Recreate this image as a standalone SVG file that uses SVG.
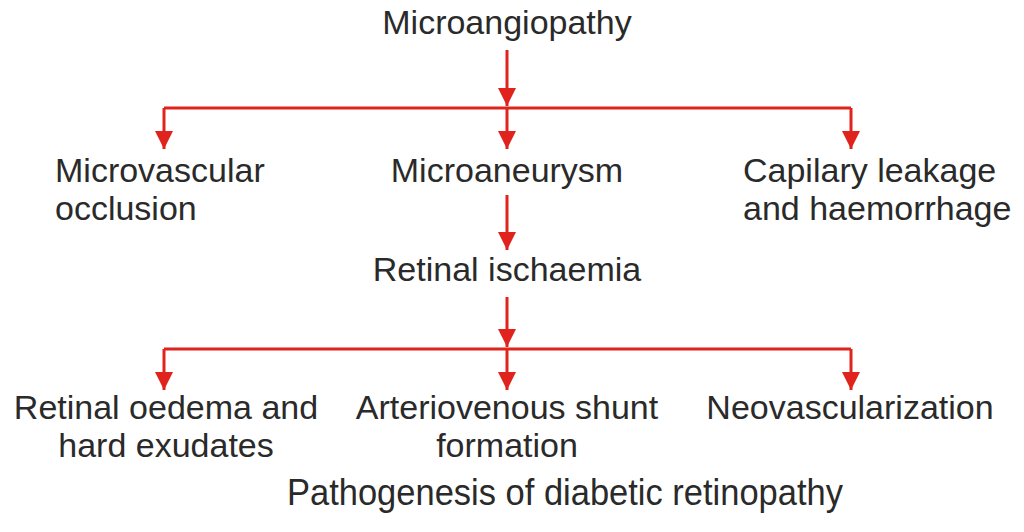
<svg xmlns="http://www.w3.org/2000/svg" width="1024" height="532" viewBox="0 0 1024 532">
<defs>
<style>
text{font-family:"Liberation Sans",Arial,sans-serif;font-size:34px;fill:#2a2a2a}
.c{text-anchor:middle}
.cap{font-size:37px}
.e{stroke:#e0231c;stroke-width:3;fill:none}
</style>
<marker id="ah" markerUnits="userSpaceOnUse" markerWidth="18" markerHeight="18" refX="17" refY="8.5" orient="auto" viewBox="0 0 17 17">
<path d="M0,0 L17,8.5 L0,17 Z" fill="#e0231c"/>
</marker>
</defs>
<rect width="1024" height="532" fill="#ffffff"/>
<g id="connectors">
<path class="e" d="M507,50 V106" marker-end="url(#ah)"/>
<path class="e" d="M164,108 H851"/>
<path class="e" d="M164,108 V149" marker-end="url(#ah)"/>
<path class="e" d="M507,108 V149" marker-end="url(#ah)"/>
<path class="e" d="M851,108 V149" marker-end="url(#ah)"/>
<path class="e" d="M507,195 V250" marker-end="url(#ah)"/>
<path class="e" d="M507,297 V347" marker-end="url(#ah)"/>
<path class="e" d="M164,349 H851"/>
<path class="e" d="M164,349 V390" marker-end="url(#ah)"/>
<path class="e" d="M507,349 V390" marker-end="url(#ah)"/>
<path class="e" d="M851,349 V390" marker-end="url(#ah)"/>
</g>
<g id="microangiopathy"><text class="c" x="507" y="34">Microangiopathy</text></g>
<g id="microvascular-occlusion"><text x="55" y="182">Microvascular</text><text x="55" y="220">occlusion</text></g>
<g id="microaneurysm"><text class="c" x="507" y="182">Microaneurysm</text></g>
<g id="capilary-leakage"><text x="743" y="182">Capilary leakage</text><text x="743" y="220">and haemorrhage</text></g>
<g id="retinal-ischaemia"><text class="c" x="507" y="281">Retinal ischaemia</text></g>
<g id="retinal-oedema"><text class="c" x="166" y="419">Retinal oedema and</text><text class="c" x="166" y="457">hard exudates</text></g>
<g id="av-shunt"><text class="c" x="507" y="419">Arteriovenous shunt</text><text class="c" x="507" y="457">formation</text></g>
<g id="neovascularization"><text class="c" x="850" y="419">Neovascularization</text></g>
<g id="caption"><text class="c cap" x="565" y="505" textLength="556" lengthAdjust="spacingAndGlyphs">Pathogenesis of diabetic retinopathy</text></g>
</svg>
